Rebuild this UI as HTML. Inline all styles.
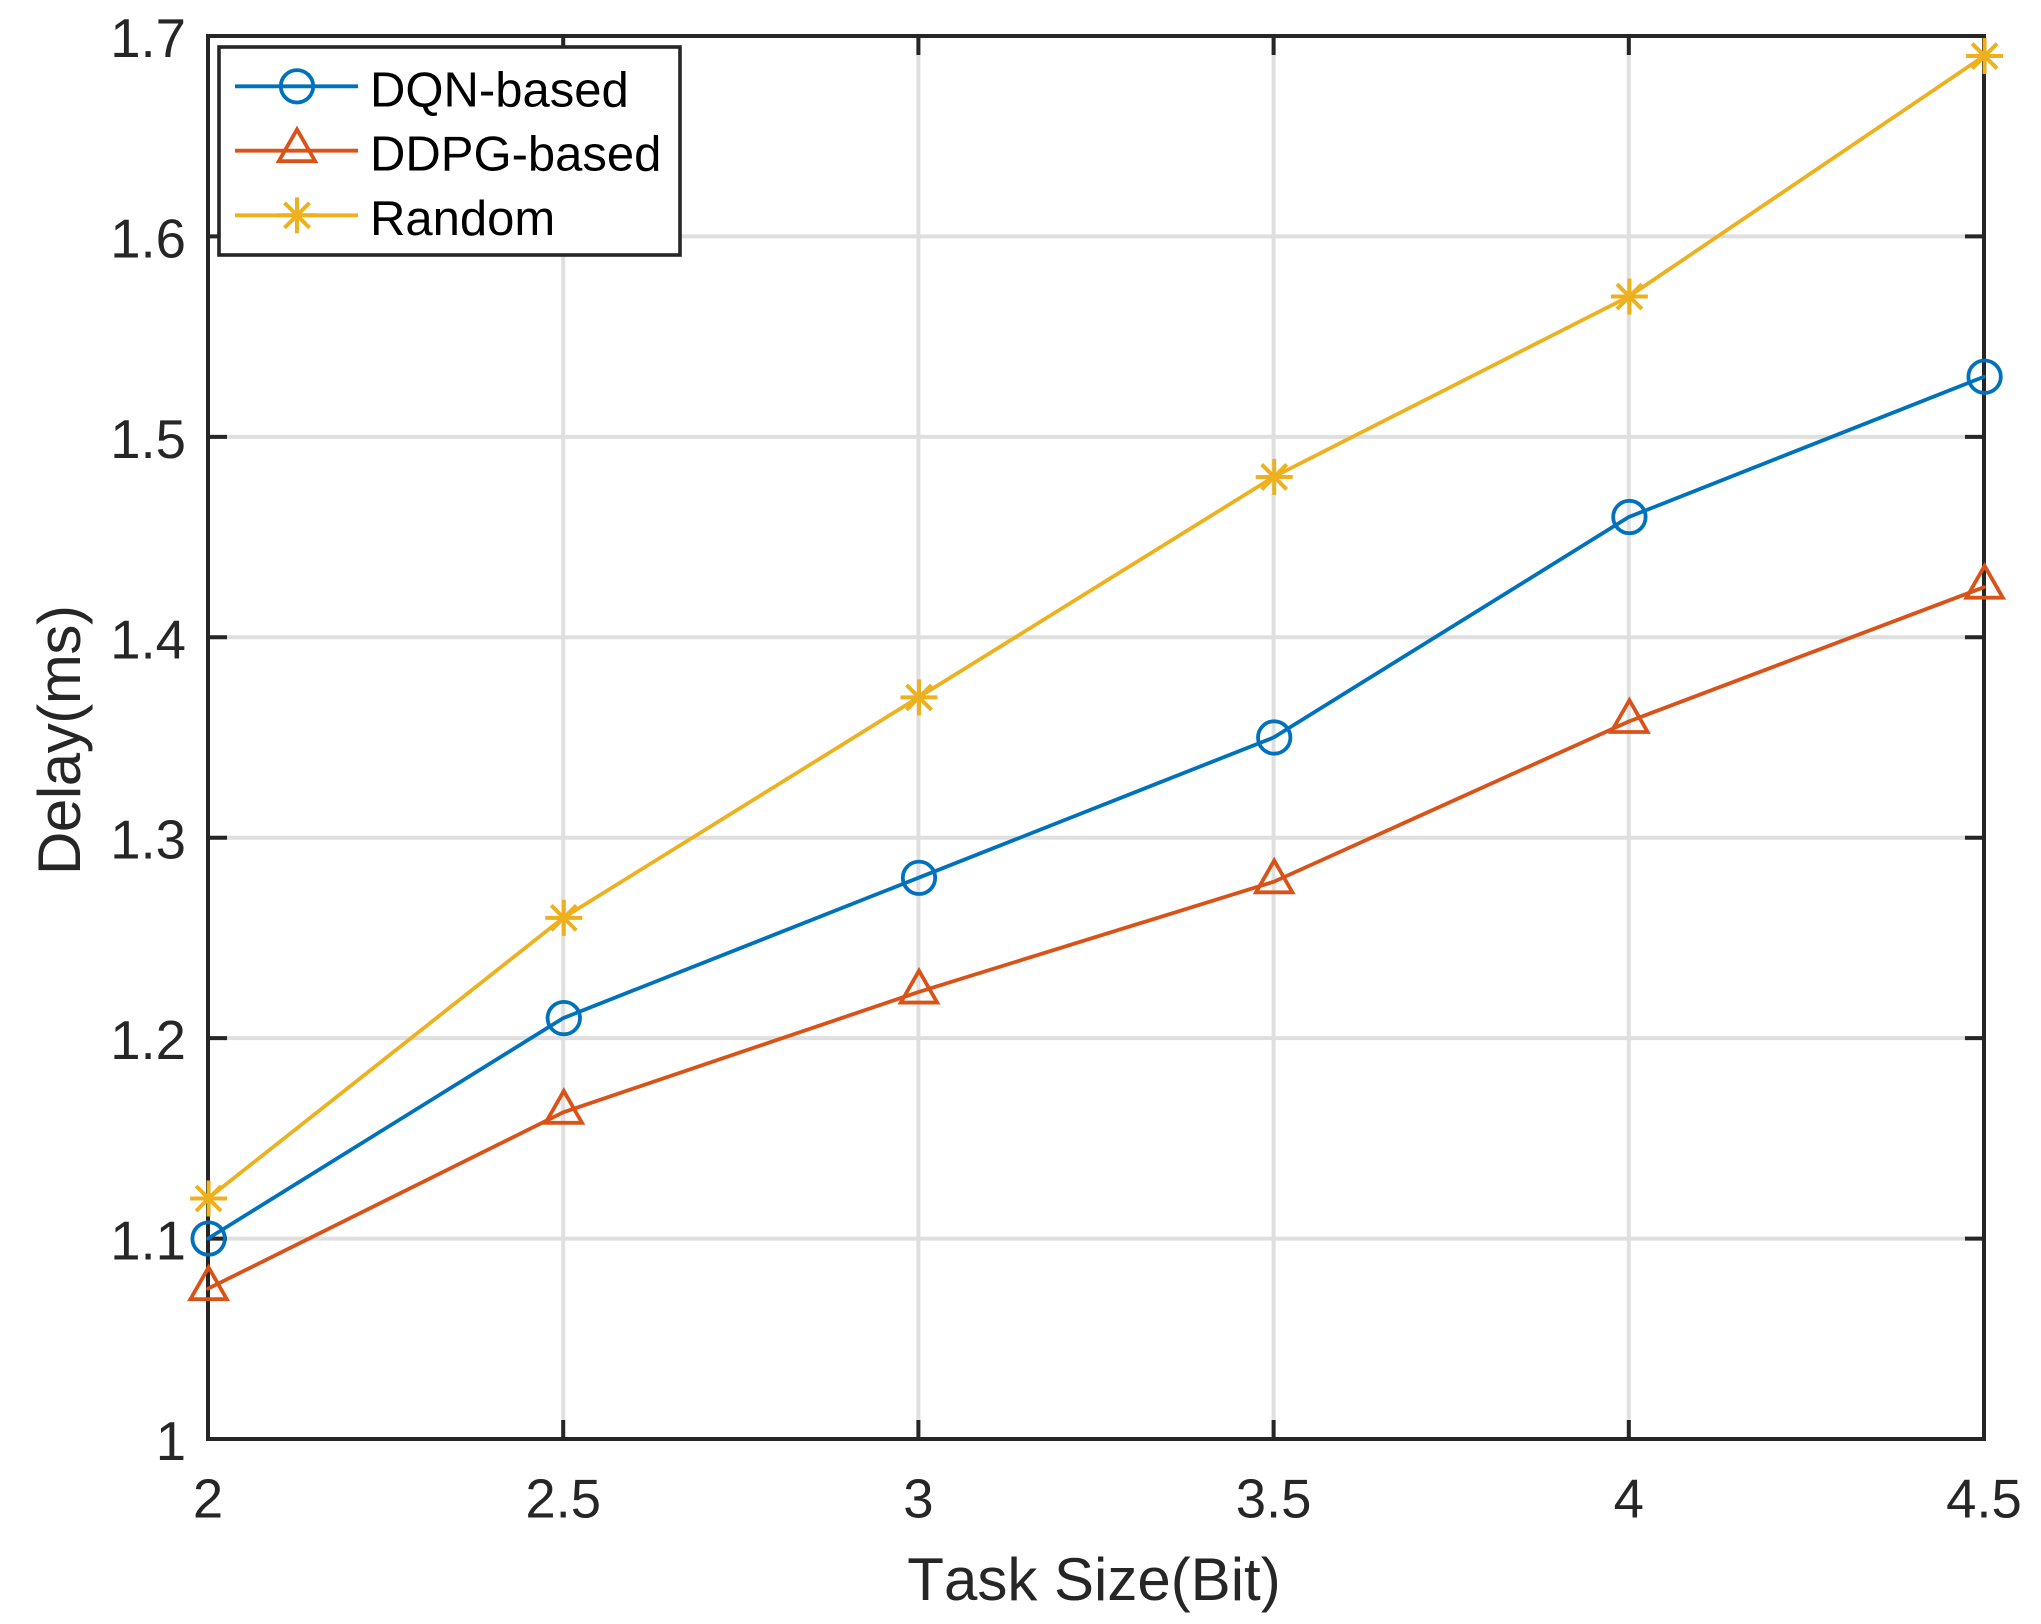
<!DOCTYPE html>
<html lang="en">
<head>
<meta charset="utf-8">
<title>Delay vs Task Size</title>
<style>
html,body{margin:0;padding:0;background:#fff;}
svg{display:block;}
text{font-family:"Liberation Sans",Arial,sans-serif;}
.nokern{font-kerning:none;}
</style>
</head>
<body>
<svg id="chart" xmlns="http://www.w3.org/2000/svg" width="2041" height="1624" viewBox="0 0 2041 1624">
  <rect x="0" y="0" width="2041" height="1624" fill="#ffffff"/>
  <g id="grid"></g>
  <g id="axes"></g>
  <text class="nokern" x="1094" y="1600" font-size="60" fill="#262626" text-anchor="middle">Task Size(Bit)</text>
  <text class="nokern" transform="translate(80 740) rotate(-90)" font-size="60" fill="#262626" text-anchor="middle" textLength="270">Delay(ms)</text>
  <g id="series"></g>
  <g id="legend">
    <rect x="219" y="47" width="461" height="208" fill="#ffffff" stroke="#262626" stroke-width="3.6"/>
    <g id="legend-keys"></g>
    <text x="370" y="106.7" font-size="49" fill="#000000">DQN-based</text>
    <text x="370" y="170.7" font-size="49" fill="#000000">DDPG-based</text>
    <text x="370" y="235" font-size="49" fill="#000000">Random</text>
  </g>
</svg>
<script>
const taskSizes = [2, 2.5, 3, 3.5, 4, 4.5];
const dqnDelay = [1.1, 1.21, 1.28, 1.35, 1.46, 1.53];
const ddpgDelay = [1.075, 1.163, 1.223, 1.278, 1.358, 1.425];
const randomDelay = [1.12, 1.26, 1.37, 1.48, 1.57, 1.69];
const xTickValues = [2, 2.5, 3, 3.5, 4, 4.5];
const xTickLabels = ['2', '2.5', '3', '3.5', '4', '4.5'];
const yTickValues = [1, 1.1, 1.2, 1.3, 1.4, 1.5, 1.6, 1.7];
const yTickLabels = ['1', '1.1', '1.2', '1.3', '1.4', '1.5', '1.6', '1.7'];

const NS = 'http://www.w3.org/2000/svg';
const plot = {left: 208, right: 1984, top: 36, bottom: 1439};
const xMin = 2, xMax = 4.5, yMin = 1, yMax = 1.7;
const AXIS_COLOR = '#262626', GRID_COLOR = '#dfdfdf';
const TICK_LEN = 19;
const MARKER_DX = 0.6;
const LINE_W = 3.8;
const MARKER_W = 3.8;

function xScale(v) {
  return plot.left + (v - xMin) / (xMax - xMin) * (plot.right - plot.left);
}
function yScale(v) {
  return plot.bottom - (v - yMin) / (yMax - yMin) * (plot.bottom - plot.top);
}
function make(tag, name, attrs, parent) {
  const el = document.createElementNS(NS, tag);
  
  
  for (const k in attrs) el.setAttribute(k, attrs[k]);
  parent.appendChild(el);
  return el;
}
function line(name, x1, y1, x2, y2, color, w, parent) {
  return make('line', name, {x1: x1, y1: y1, x2: x2, y2: y2, stroke: color, 'stroke-width': w}, parent);
}

const gridG = document.getElementById('grid');
const axesG = document.getElementById('axes');
const seriesG = document.getElementById('series');
const keysG = document.getElementById('legend-keys');

xTickValues.forEach(function (v) {
  if (v > xMin && v < xMax) line('x-grid-line', xScale(v), plot.top, xScale(v), plot.bottom, GRID_COLOR, 4, gridG);
});
yTickValues.forEach(function (v) {
  if (v > yMin && v < yMax) line('y-grid-line', plot.left, yScale(v), plot.right, yScale(v), GRID_COLOR, 4, gridG);
});

make('rect', 'plot-frame', {
  x: plot.left, y: plot.top, width: plot.right - plot.left, height: plot.bottom - plot.top,
  fill: 'none', stroke: AXIS_COLOR, 'stroke-width': 4
}, axesG);

xTickValues.forEach(function (v, i) {
  const x = xScale(v);
  line('x-tick-bottom', x, plot.bottom, x, plot.bottom - TICK_LEN, AXIS_COLOR, 4, axesG);
  line('x-tick-top', x, plot.top, x, plot.top + TICK_LEN, AXIS_COLOR, 4, axesG);
  const t = make('text', 'x-tick-label', {x: x, y: 1517.7, 'font-size': 54.5, fill: AXIS_COLOR, 'text-anchor': 'middle'}, axesG);
  t.textContent = xTickLabels[i];
});
yTickValues.forEach(function (v, i) {
  const y = yScale(v);
  line('y-tick-left', plot.left, y, plot.left + TICK_LEN, y, AXIS_COLOR, 4, axesG);
  line('y-tick-right', plot.right, y, plot.right - TICK_LEN, y, AXIS_COLOR, 4, axesG);
  const t = make('text', 'y-tick-label', {x: 186, y: y + 21, 'font-size': 54.5, fill: AXIS_COLOR, 'text-anchor': 'end'}, axesG);
  t.textContent = yTickLabels[i];
});

function circleMarker(cx, cy, color, parent) {
  make('circle', 'circle-marker', {cx: cx, cy: cy, r: 16.2, fill: 'none', stroke: color, 'stroke-width': MARKER_W}, parent);
}
function triangleMarker(cx, cy, color, parent) {
  const d = 'M' + cx + ' ' + (cy - 21.3) + 'L' + (cx + 18.2) + ' ' + (cy + 10.5) + 'L' + (cx - 18.2) + ' ' + (cy + 10.5) + 'Z';
  make('path', 'triangle-marker', {d: d, fill: 'none', stroke: color, 'stroke-width': MARKER_W, 'stroke-miterlimit': 10}, parent);
}
function asteriskMarker(cx, cy, color, parent) {
  const g = make('g', 'asterisk-marker', {}, parent);
  line('asterisk-stroke', cx - 18.5, cy, cx + 18.5, cy, color, 4, g);
  line('asterisk-stroke', cx, cy - 18, cx, cy + 18, color, 4, g);
  line('asterisk-stroke', cx - 12.5, cy - 12.5, cx + 12.5, cy + 12.5, color, 4, g);
  line('asterisk-stroke', cx - 12.5, cy + 12.5, cx + 12.5, cy - 12.5, color, 4, g);
}

function drawSeries(name, values, color, marker) {
  const g = make('g', name + '-series', {}, seriesG);
  const pts = taskSizes.map(function (v, i) { return xScale(v) + ',' + yScale(values[i]); }).join(' ');
  make('polyline', name + '-line', {
    points: pts, fill: 'none', stroke: color, 'stroke-width': LINE_W, 'stroke-linejoin': 'round', 'stroke-linecap': 'round'
  }, g);
  taskSizes.forEach(function (v, i) {
    marker(xScale(v) + MARKER_DX, yScale(values[i]), color, g);
  });
}
drawSeries('dqn', dqnDelay, '#0072bd', circleMarker);
drawSeries('ddpg', ddpgDelay, '#d95319', triangleMarker);
drawSeries('random', randomDelay, '#edb120', asteriskMarker);

function legendKey(name, y, color, marker) {
  line(name + '-key-line', 235, y, 358, y, color, LINE_W, keysG);
  marker(297, y, color, keysG);
}
legendKey('dqn', 86.3, '#0072bd', circleMarker);
legendKey('ddpg', 150.7, '#d95319', triangleMarker);
legendKey('random', 215.3, '#edb120', asteriskMarker);
</script>
</body>
</html>
